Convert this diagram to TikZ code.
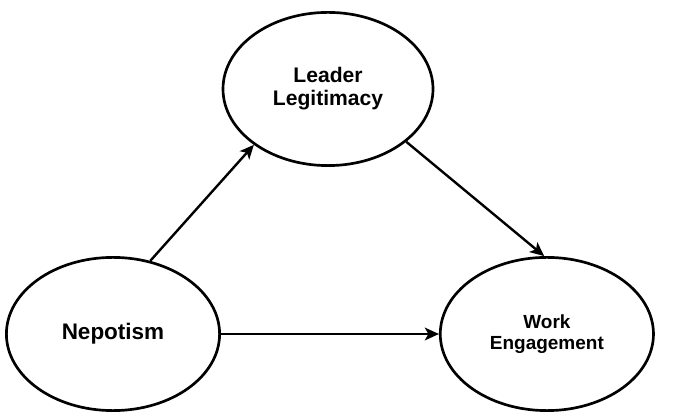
\documentclass[tikz,border=0pt]{standalone}
\usepackage{fontspec}
\setmainfont{Liberation Sans}
\usepackage{tikz}
\usetikzlibrary{positioning,arrows.meta,shapes.geometric}

\begin{document}
\begin{tikzpicture}[
    construct/.style={draw,ellipse,line width=1.9pt,minimum width=5.33cm,minimum height=3.83cm,inner sep=0pt,align=center,font=\bfseries},
    arr/.style={-{Stealth[length=10pt,width=9pt,inset=2.5pt]},line width=1.7pt}
  ]
    \useasboundingbox (0,0) rectangle (16.9,10.4);

    % Constructs
    \node[construct, font=\bfseries\fontsize{16}{19}\selectfont] (nep) at (2.825,2.05) {Nepotism};
    \node[construct, right=5.45cm of nep, font=\bfseries\fontsize{13.5}{14.5}\selectfont] (work) {Work\\Engagement};
    \node[construct, minimum width=5.25cm, font=\bfseries\fontsize{15}{16.5}\selectfont] (lead) at (8.2,8.175) {Leader\\Legitimacy};

    % Paths
    \draw[arr] (nep.63) -- (lead.217);
    \draw[arr] (lead.-34) -- (work.92);
    \draw[arr] (nep.east) -- (work.west);
  \end{tikzpicture}
\end{document}
